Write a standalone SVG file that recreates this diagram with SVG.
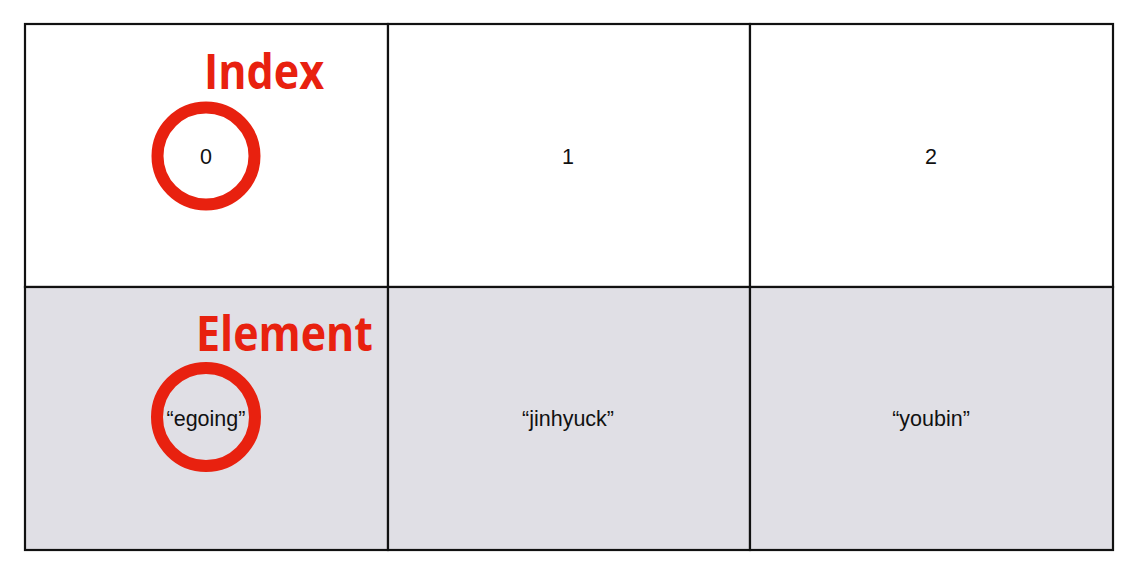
<svg xmlns="http://www.w3.org/2000/svg" width="1145" height="577" viewBox="0 0 1145 577">
  <style>
    .cell { stroke: #111; stroke-width: 2.2; }
    .top { fill: #ffffff; }
    .bot { fill: #e0dfe5; }
    .val { font-family: "Liberation Sans", Arial, sans-serif; font-size: 21.5px; fill: #111; text-anchor: middle; }
    .ring { fill: none; stroke: #e8210f; stroke-width: 12; }
    .lab { font-family: "Open Sans", "Noto Sans", sans-serif; font-weight: bold; font-size: 48px; fill: #e8210f; }
  </style>
  <rect width="1145" height="577" fill="#ffffff"/>
  <g id="cell-index-0">
    <rect class="cell top" x="25" y="24" width="363" height="263"/>
    <text class="val" x="206" y="163.5">0</text>
  </g>
  <g id="cell-index-1">
    <rect class="cell top" x="388" y="24" width="362" height="263"/>
    <text class="val" x="568" y="163.5">1</text>
  </g>
  <g id="cell-index-2">
    <rect class="cell top" x="750" y="24" width="363" height="263"/>
    <text class="val" x="931" y="163.5">2</text>
  </g>
  <g id="cell-element-0">
    <rect class="cell bot" x="25" y="287" width="363" height="263"/>
    <text class="val" x="206" y="426">“egoing”</text>
  </g>
  <g id="cell-element-1">
    <rect class="cell bot" x="388" y="287" width="362" height="263"/>
    <text class="val" x="568" y="426">“jinhyuck”</text>
  </g>
  <g id="cell-element-2">
    <rect class="cell bot" x="750" y="287" width="363" height="263"/>
    <text class="val" x="931" y="426">“youbin”</text>
  </g>
  <g id="annot-index">
    <circle class="ring" cx="206" cy="156" r="48.5"/>
    <text class="lab" x="204" y="89" textLength="120" lengthAdjust="spacingAndGlyphs">Index</text>
  </g>
  <g id="annot-element">
    <circle class="ring" cx="206" cy="417" r="49"/>
    <text class="lab" x="196" y="351" textLength="177" lengthAdjust="spacingAndGlyphs">Element</text>
  </g>
</svg>
